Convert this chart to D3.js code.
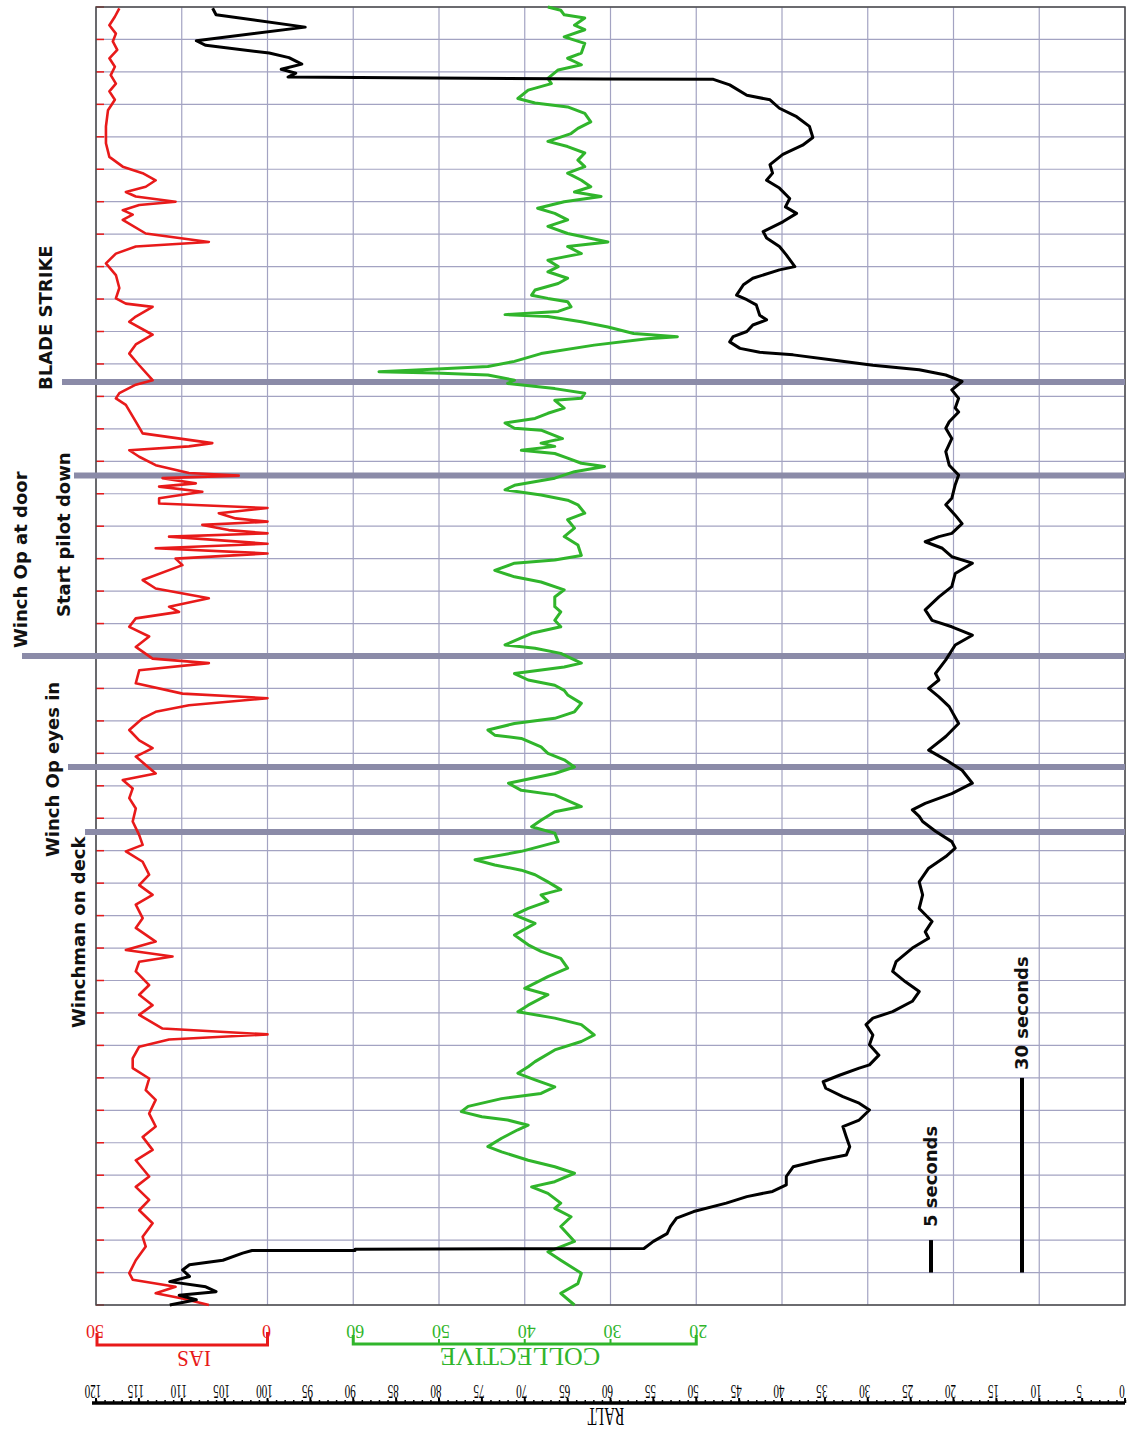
<!DOCTYPE html>
<html>
<head>
<meta charset="utf-8">
<script src="https://cdnjs.cloudflare.com/ajax/libs/d3/7.8.5/d3.min.js"></script>
<style>
	html, body { margin: 0; padding: 0; background: #fff; }
	svg { display: block; }
	.note { font-family: "DejaVu Sans", sans-serif; font-weight: bold; font-size: 18px; fill: #111; }
	.scale-txt { font-family: "Liberation Serif", "Times New Roman", serif; }
</style>
</head>
<body>
<svg class="chart__flight" width="1130" height="1431"></svg>
<script>
// DATA  (time in seconds from the bottom of the trace, value)

var iasSeries = [
	[199.8,43.2],[198.5,44.5],[197.2,46.1],[195.9,44.2],[194.7,45.1],[193.4,43.8],[192.1,46.1],[190.8,44.5],[189.5,45.7],[188.2,44.2],
	[187.0,46.1],[185.7,44.5],[184.1,46.5],[181.6,47.1],[179.0,47.1],[176.9,46.1],[175.4,42.2],[174.4,36.4],[173.3,32.6],[172.3,35.5],
	[171.5,41.3],[170.8,38.4],[170.0,26.8],[169.5,37.4],[168.7,42.2],[168.0,39.3],[167.2,42.2],[165.1,35.5],[163.8,17.1],[163.1,38.4],
	[162.0,44.2],[160.5,47.1],[158.7,44.2],[156.7,43.2],[155.1,44.2],[154.3,41.3],[153.8,33.5],[152.3,38.4],[151.5,40.3],[149.5,33.5],
	[148.0,38.4],[146.6,40.3],[144.8,37.4],[142.5,33.5],[141.8,38.4],[140.5,43.2],[139.7,44.2],[138.7,41.3],[136.1,38.4],[134.3,36.4],
	[133.3,22.9],[132.8,16.1],[132.3,22.9],[131.7,40.3],[130.7,37.4],[129.4,32.6],[128.2,22.9],[127.8,8.4],[127.4,30.6],[126.6,20.9],
	[126.1,31.6],[125.3,19.0],[124.3,31.6],[123.5,31.6],[122.8,0],[122.0,14.2],[121.2,9.3],[120.7,0],[120.2,19.0],[119.4,11.3],
	[118.9,0],[118.4,28.7],[117.3,0],[116.6,32.6],[115.8,0],[115.0,26.8],[114.0,24.8],[111.7,36.4],[110.4,32.6],[108.9,17.1],
	[107.6,28.7],[106.8,25.8],[105.8,38.4],[104.5,40.3],[103.0,34.5],[101.4,38.4],[99.6,33.5],[98.9,17.1],[97.8,37.4],[95.8,38.4],
	[94.2,24.8],[93.5,0],[92.4,22.9],[91.4,32.6],[90.4,36.4],[88.6,40.3],[87.0,37.4],[85.8,33.5],[84.5,38.4],[81.9,32.6],
	[80.9,42.2],[79.6,39.3],[78.1,40.3],[76.5,38.4],[74.5,39.3],[72.4,37.4],[70.9,36.4],[69.9,41.3],[68.3,36.4],[66.3,34.5],
	[64.7,37.4],[63.2,33.5],[61.7,38.4],[59.6,36.4],[58.1,38.4],[56.0,32.6],[54.7,41.3],[53.7,27.7],[52.9,37.4],[51.4,38.4],
	[49.3,34.5],[47.8,37.4],[46.2,33.5],[44.7,37.4],[42.6,30.6],[41.7,0],[40.9,28.7],[39.8,37.4],[38.0,39.3],[36.5,39.3],
	[34.9,34.5],[33.1,35.5],[31.6,32.6],[29.5,34.5],[27.5,32.6],[25.9,36.4],[23.9,33.5],[22.3,38.4],[19.8,34.5],[18.2,38.4],
	[16.2,34.5],[14.6,37.4],[12.6,33.5],[10.5,36.4],[9.0,35.5],[6.9,38.4],[4.9,40.3],[3.9,39.3],[2.8,26.8],[1.8,32.6],
	[1.0,24.8],[0.0,17.1]
];

var collectiveSeries = [
	[200.0,37.3],[199.5,35.8],[198.8,35.4],[198.3,33.0],[197.2,34.2],[196.5,33.0],[195.4,35.4],[194.4,33.0],[192.9,33.4],[192.1,35.0],
	[191.1,33.4],[190.3,36.1],[189.0,37.3],[188.2,36.9],[187.2,39.6],[185.9,40.8],[185.2,38.8],[184.6,35.0],[183.6,33.0],[182.3,32.3],
	[181.3,33.8],[180.5,34.6],[179.3,37.3],[178.5,35.0],[177.5,33.0],[176.4,33.8],[175.4,33.0],[174.4,35.0],[173.3,33.4],[172.3,32.3],
	[171.5,34.2],[170.8,31.1],[170.0,35.4],[169.0,38.5],[168.2,36.5],[167.2,35.0],[166.2,37.3],[165.1,35.0],[163.8,30.3],[163.1,35.0],
	[162.0,33.4],[161.0,37.3],[160.0,36.1],[159.2,37.3],[158.2,35.0],[157.4,36.1],[156.4,38.8],[155.6,39.2],[155.1,37.3],[154.6,35.0],
	[153.8,34.6],[153.1,36.1],[152.6,42.3],[152.3,37.3],[151.5,33.4],[150.7,30.3],[149.7,27.3],[149.2,22.2],[148.9,25.7],[147.9,31.9],
	[146.6,38.1],[145.4,41.2],[144.6,44.3],[144.1,52.0],[143.8,57.0],[143.6,50.5],[143.3,44.3],[142.5,41.2],[142.0,42.0],[141.2,36.5],
	[140.5,33.0],[139.7,33.4],[139.4,36.5],[138.2,35.4],[137.4,37.3],[136.6,38.8],[135.9,42.3],[135.1,41.2],[134.8,38.1],[133.5,35.6],
	[132.8,38.1],[132.3,36.5],[131.7,40.4],[131.2,36.5],[130.5,35.0],[129.7,33.4],[129.2,30.7],[128.4,34.2],[127.4,36.5],[126.3,41.2],
	[125.6,42.3],[124.8,38.1],[124.0,35.0],[123.3,33.8],[122.0,33.0],[121.0,35.0],[119.7,34.2],[118.4,35.4],[117.1,33.8],[115.5,33.4],
	[114.8,36.5],[114.3,41.2],[113.2,43.5],[112.2,41.2],[111.4,38.1],[110.2,35.4],[109.1,36.5],[107.6,36.5],[106.8,35.8],[105.5,36.5],
	[104.5,35.8],[103.5,39.2],[101.7,42.3],[101.2,38.8],[100.4,35.8],[98.9,33.4],[98.3,35.4],[97.3,41.2],[96.3,39.6],[95.5,36.5],
	[94.7,35.4],[94.0,35.0],[92.7,33.4],[91.4,34.2],[90.4,36.5],[89.6,41.2],[88.6,44.3],[87.8,43.5],[87.3,40.4],[86.0,38.1],
	[85.0,37.3],[84.0,35.4],[82.9,34.2],[81.9,36.5],[80.4,41.9],[79.3,40.4],[78.6,36.5],[76.8,33.4],[76.0,36.5],[74.7,38.1],
	[73.7,39.2],[72.7,36.5],[71.4,36.1],[69.9,40.4],[68.6,45.8],[67.8,43.5],[67.0,40.4],[66.3,38.8],[65.2,37.3],[64.0,35.8],
	[63.2,38.1],[62.2,37.3],[61.1,39.6],[60.1,41.2],[58.8,38.8],[57.0,41.2],[55.5,39.6],[54.5,38.1],[53.4,35.8],[51.9,35.0],
	[50.6,37.3],[48.8,40.0],[47.8,37.3],[46.2,39.6],[45.2,40.8],[44.2,36.5],[43.2,33.4],[41.6,31.9],[40.6,33.4],[39.3,36.5],
	[37.5,38.8],[36.7,39.6],[35.7,40.8],[34.7,38.8],[33.6,36.5],[32.6,38.1],[31.8,42.7],[30.6,46.6],[29.8,47.4],[29.0,45.0],
	[28.5,42.0],[27.7,39.6],[27.0,40.8],[25.7,42.7],[24.4,44.3],[23.6,42.7],[22.3,39.6],[21.3,36.5],[20.3,34.2],[19.0,36.5],
	[18.2,39.2],[17.2,37.3],[15.7,35.8],[14.9,36.5],[13.6,34.6],[12.1,35.8],[9.8,34.2],[8.2,37.3],[6.9,35.8],[4.9,33.4],
	[3.3,33.8],[1.8,35.8],[0.0,34.2]
];

var raltSeries = [
	[199.8,106.4],[198.8,106.0],[196.9,95.6],[194.8,108.3],[194.1,107.2],[192.9,99.8],[192.2,97.5],[191.2,96.0],[190.4,98.4],[189.8,96.7],
	[189.2,97.6],[189.1,85.1],[188.9,60.8],[188.85,48.0],[188.0,46.1],[186.4,44.1],[185.7,41.4],[184.4,40.3],[183.1,38.3],[181.6,36.8],
	[179.9,36.4],[178.7,37.6],[177.3,39.9],[175.7,41.4],[174.4,41.1],[173.3,41.8],[172.1,40.3],[170.5,39.1],[169.2,39.6],[168.2,38.3],
	[166.9,39.9],[165.4,42.2],[164.4,41.8],[163.1,40.3],[161.8,39.5],[160.0,38.5],[159.5,40.3],[158.2,43.4],[157.2,44.5],[155.6,45.3],
	[154.9,44.1],[154.1,43.0],[152.5,42.6],[151.8,41.8],[151.0,43.4],[150.0,44.1],[149.2,45.7],[148.4,46.1],[147.4,44.9],[146.8,42.6],
	[146.4,38.7],[145.6,34.1],[144.8,29.4],[144.1,24.0],[143.3,20.9],[142.3,19.0],[141.0,20.2],[139.7,19.4],[138.2,19.8],[137.6,19.4],
	[136.1,20.5],[135.1,20.9],[133.5,20.2],[131.5,20.9],[129.4,20.5],[127.9,19.4],[126.4,19.8],[124.3,20.2],[123.3,20.9],[121.7,19.8],
	[120.4,19.0],[118.9,20.2],[118.4,21.7],[117.6,23.3],[116.6,21.3],[115.3,20.2],[114.3,17.8],[112.7,19.8],[110.7,20.2],[109.1,21.7],
	[107.1,23.3],[105.5,22.5],[104.5,20.2],[103.2,17.8],[101.7,19.8],[99.4,20.9],[97.3,22.1],[96.3,21.7],[95.0,22.9],[93.7,21.7],
	[92.2,20.5],[89.6,19.4],[87.6,20.9],[85.5,22.9],[84.0,20.9],[82.4,19.0],[80.4,17.8],[78.8,20.2],[77.3,23.3],[76.3,24.8],
	[75.3,24.0],[74.5,23.6],[73.0,22.1],[71.4,20.2],[70.4,19.8],[69.1,20.9],[67.3,22.9],[65.2,24.0],[63.2,23.6],[61.1,24.0],
	[59.1,22.5],[57.5,23.3],[56.5,22.9],[55.0,24.8],[52.9,26.7],[51.4,27.1],[49.8,25.6],[48.3,24.0],[46.8,24.8],[45.2,27.1],
	[44.2,29.4],[43.2,30.2],[41.6,29.4],[40.1,29.8],[38.5,28.7],[37.0,29.8],[36.5,31.0],[35.4,33.3],[34.4,35.2],[33.4,34.9],
	[32.1,32.9],[31.1,31.0],[30.05,29.8],[28.5,31.0],[27.5,32.9],[25.9,32.5],[24.4,32.1],[23.1,32.5],[22.3,35.6],[21.3,38.7],
	[19.8,39.5],[18.5,39.5],[17.5,41.1],[16.7,44.1],[15.7,46.5],[14.4,50.3],[13.4,52.3],[12.1,53.0],[11.0,53.4],[9.8,55.0],
	[8.7,56.1],[8.6,89.8],[8.4,89.8],[8.4,101.8],[8.0,102.9],[6.9,105.2],[6.2,109.1],[5.4,109.9],[4.4,109.1],[3.6,111.4],
	[2.8,107.2],[2.05,106.0],[1.5,110.3],[0.8,108.3],[0.0,111.4]
];

var eventNames = ["BLADE STRIKE", "Start pilot down", "Winch Op at door", "Winch Op eyes in", "Winchman on deck"];
var eventTimes = [142.2, 127.8, 100.0, 82.9, 72.9];

var raltTicks = [120,115,110,105,100,95,90,85,80,75,70,65,60,55,50,45,40,35,30,25,20,15,10,5,0];
var raltGrid = [120,110,100,90,80,70,60,50,40,30,20,10,0];
var collectiveTicks = [60,50,40,30,20];
var iasTicks = [50,0];

var timeBarNames = ["5 seconds", "30 seconds"];
var timeBarSpans = [[5,10],[5,35]];

(function() {

//VARS

	var svg = d3.select('.chart__flight');
	var scales = {};
	var plot = {left: 96, right: 1125, top: 7, bottom: 1305};

	var red = "#e81a1a";
	var green = "#30b52b";
	var gridColor = "#a3a3c2";
	var eventColor = "#8b8ba8";

	// where the rotated event notes sit (left gutter)
	var eventLabelX = [45, 63, 20, 52, 78];
	var eventLabelY = [390, 617, 648, 857, 1028];
	var eventLineX0 = [62, 74, 22, 68, 85];
	var timeBarX = [931, 1022];
	var timeLabelY = [1227, 1070];

	function setupScales() {
		scales.t = d3.scaleLinear().domain([0, 200]).range([plot.bottom, plot.top]);
		scales.ralt = d3.scaleLinear().domain([120, 0]).range([plot.left, plot.right]);
		scales.ias = d3.scaleLinear().domain([50, 0]).range([plot.left, scales.ralt(100)]);
		scales.coll = d3.scaleLinear().domain([60, 20]).range([scales.ralt(90), scales.ralt(50)]);
	}

	function drawGrid() {
		var g = svg.append('g').attr('class', 'grid');
		var tTicks = scales.t.ticks(40);

		g.selectAll('.hgrid')
			.data(tTicks)
			.enter()
			.append('line')
			.attr('x1', plot.left).attr('x2', plot.right)
			.attr('y1', function(d) { return scales.t(d); })
			.attr('y2', function(d) { return scales.t(d); })
			.attr('stroke', gridColor)
			.attr('stroke-width', 1.2);

		g.selectAll('.vgrid')
			.data(raltGrid)
			.enter()
			.append('line')
			.attr('x1', function(d) { return scales.ralt(d); })
			.attr('x2', function(d) { return scales.ralt(d); })
			.attr('y1', plot.top).attr('y2', plot.bottom)
			.attr('stroke', gridColor)
			.attr('stroke-width', 1.2);

		// little red marks on the left edge
		g.selectAll('.redtick')
			.data(tTicks)
			.enter()
			.append('line')
			.attr('x1', plot.left).attr('x2', plot.left + 8)
			.attr('y1', function(d) { return scales.t(d); })
			.attr('y2', function(d) { return scales.t(d); })
			.attr('stroke', red)
			.attr('stroke-width', 1.5);

		g.append('rect')
			.attr('x', plot.left).attr('y', plot.top)
			.attr('width', plot.right - plot.left)
			.attr('height', plot.bottom - plot.top)
			.attr('fill', 'none')
			.attr('stroke', '#4a4a4a')
			.attr('stroke-width', 1.5);
	}

	function drawEvents() {
		var g = svg.append('g').attr('class', 'events');

		g.selectAll('line')
			.data(eventTimes)
			.enter()
			.append('line')
			.attr('x1', function(d, i) { return eventLineX0[i]; })
			.attr('x2', plot.right)
			.attr('y1', function(d) { return scales.t(d); })
			.attr('y2', function(d) { return scales.t(d); })
			.attr('stroke', eventColor)
			.attr('stroke-width', 6);

		g.selectAll('text')
			.data(eventNames)
			.enter()
			.append('text')
			.attr('class', 'note')
			.attr('dominant-baseline', 'central')
			.attr('transform', function(d, i) { return 'translate(' + eventLabelX[i] + ',' + eventLabelY[i] + ') rotate(-90)'; })
			.text(function(d) { return d; });
	}

	function drawTrace(data, xScale, color, width) {
		var line = d3.line()
			.x(function(d) { return xScale(d[1]); })
			.y(function(d) { return scales.t(d[0]); });

		svg.append('path')
			.datum(data)
			.attr('d', line)
			.attr('fill', 'none')
			.attr('stroke', color)
			.attr('stroke-width', width)
			.attr('stroke-linejoin', 'round');
	}

	function drawTimeBars() {
		var g = svg.append('g').attr('class', 'timebars');

		g.selectAll('line')
			.data(timeBarSpans)
			.enter()
			.append('line')
			.attr('x1', function(d, i) { return timeBarX[i]; })
			.attr('x2', function(d, i) { return timeBarX[i]; })
			.attr('y1', function(d) { return scales.t(d[0]); })
			.attr('y2', function(d) { return scales.t(d[1]); })
			.attr('stroke', '#000')
			.attr('stroke-width', 4);

		g.selectAll('text')
			.data(timeBarNames)
			.enter()
			.append('text')
			.attr('class', 'note')
			.attr('dominant-baseline', 'central')
			.attr('transform', function(d, i) { return 'translate(' + (timeBarX[i] - 1) + ',' + timeLabelY[i] + ') rotate(-90)'; })
			.text(function(d) { return d; });
	}

	// every label under the plot is printed upside down
	function flipText(g, x, y, str, size, sx, color) {
		g.append('text')
			.attr('class', 'scale-txt')
			.attr('text-anchor', 'middle')
			.attr('font-size', size)
			.attr('fill', color)
			.attr('transform', 'translate(' + x + ',' + y + ') rotate(180) scale(' + sx + ',1)')
			.text(str);
	}

	function drawScales() {
		// IAS
		var gi = svg.append('g');
		var i0 = scales.ias(50), i1 = scales.ias(0);
		gi.append('path')
			.attr('d', 'M' + (i0 + 1) + ',1333V1345H' + i1 + 'V1332')
			.attr('fill', 'none').attr('stroke', red).attr('stroke-width', 3);
		iasTicks.forEach(function(v) { flipText(gi, scales.ias(v) - 1, 1325, v, 18, 1, red); });
		flipText(gi, 194, 1351, 'IAS', 23, 0.92, red);

		// COLLECTIVE
		var gc = svg.append('g');
		var c0 = scales.coll(60), c1 = scales.coll(20);
		gc.append('path')
			.attr('d', 'M' + c0 + ',1335V1344H' + c1 + 'V1335')
			.attr('fill', 'none').attr('stroke', green).attr('stroke-width', 3);
		gc.selectAll('.ctick')
			.data(collectiveTicks.slice(1, -1))
			.enter()
			.append('line')
			.attr('x1', function(d) { return scales.coll(d); })
			.attr('x2', function(d) { return scales.coll(d); })
			.attr('y1', 1339).attr('y2', 1344)
			.attr('stroke', green).attr('stroke-width', 2);
		collectiveTicks.forEach(function(v) { flipText(gc, scales.coll(v) + 2, 1325, v, 18, 1, green); });
		flipText(gc, 520, 1348, 'COLLECTIVE', 26, 1, green);

		// RALT
		var gr = svg.append('g').attr('transform', 'translate(0,1403)');
		gr.call(d3.axisTop(scales.ralt).tickValues(d3.range(0, 121, 1)).tickSize(3).tickFormat(''))
		gr.select('.domain').remove();
		gr.selectAll('.tick line').attr('stroke', '#000').attr('stroke-width', 1.5);
		gr.append('line')
			.attr('x1', plot.left - 4).attr('x2', plot.right)
			.attr('stroke', '#000').attr('stroke-width', 3.5);
		gr.selectAll('.major')
			.data(raltTicks)
			.enter()
			.append('line')
			.attr('x1', function(d) { return scales.ralt(d); })
			.attr('x2', function(d) { return scales.ralt(d); })
			.attr('y1', -5).attr('y2', 0)
			.attr('stroke', '#000').attr('stroke-width', 2);

		var gl = svg.append('g');
		raltTicks.forEach(function(v) { flipText(gl, scales.ralt(v) - 3, 1385, v, 18, 0.62, '#000'); });
		flipText(gl, 606, 1408, 'RALT', 26, 0.56, '#000');
	}

	function init() {
		setupScales()
		drawGrid()
		drawEvents()
		drawTrace(iasSeries, scales.ias, red, 2.6)
		drawTrace(collectiveSeries, scales.coll, green, 3)
		drawTrace(raltSeries, scales.ralt, '#000', 3)
		drawTimeBars()
		drawScales()
	}

	init()
})()
</script>
</body>
</html>
